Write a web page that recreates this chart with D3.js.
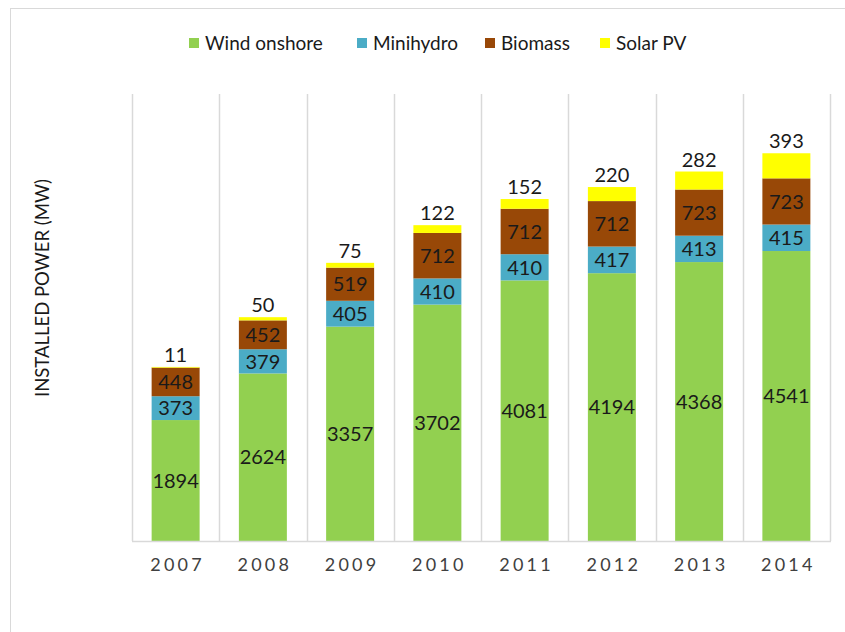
<!DOCTYPE html>
<html>
<head>
<meta charset="utf-8">
<script src="https://cdn.jsdelivr.net/npm/d3@7"></script>
<style>
  body { margin: 0; background: #fff; }
  svg text { font-family: Lato, "Open Sans", sans-serif; }
</style>
</head>
<body>
<svg id="chart" width="845" height="632"></svg>
<script>
// chart data
const years = ['2007', '2008', '2009', '2010', '2011', '2012', '2013', '2014'];
const windOnshore = [1894, 2624, 3357, 3702, 4081, 4194, 4368, 4541];
const minihydro = [373, 379, 405, 410, 410, 417, 413, 415];
const biomass = [448, 452, 519, 712, 712, 712, 723, 723];
const solarPV = [11, 50, 75, 122, 152, 220, 282, 393];

const seriesNames = ['Wind onshore', 'Minihydro', 'Biomass', 'Solar PV'];
const seriesColors = ['#92D050', '#4BACC6', '#984807', '#FFFF00'];

const width = 845, height = 632;
const plot = {left: 132, right: 830, top: 94, bottom: 541};

const svg = d3.select('#chart');

// outer chart frame (clipped at right and bottom like the source)
svg.append('rect')
  .attr('x', 10.5).attr('y', 8.5)
  .attr('width', 900).attr('height', 700)
  .attr('fill', 'none')
  .attr('stroke', '#D9D9D9');

// build rows for the stack
const rows = years.map((y, i) => ({
  year: y,
  'Wind onshore': windOnshore[i],
  'Minihydro': minihydro[i],
  'Biomass': biomass[i],
  'Solar PV': solarPV[i]
}));

const stack = d3.stack().keys(seriesNames)(rows);

const x = d3.scaleBand()
  .domain(years)
  .range([plot.left, plot.right])
  .paddingInner(0.45)
  .paddingOuter(0.225);

const y = d3.scaleLinear()
  .domain([0, 7000])
  .range([plot.bottom, plot.top]);

const color = d3.scaleOrdinal().domain(seriesNames).range(seriesColors);

// vertical category separators
const step = (plot.right - plot.left) / years.length;
const sepX = d3.range(years.length + 1).map(i => plot.left + i * step);
svg.append('g')
  .selectAll('line')
  .data(sepX)
  .enter()
  .append('line')
  .attr('x1', d => Math.round(d) + 0.5)
  .attr('x2', d => Math.round(d) + 0.5)
  .attr('y1', plot.top)
  .attr('y2', plot.bottom)
  .attr('stroke', '#D9D9D9')
  .attr('stroke-width', 1.5);

// bars
const layers = svg.append('g')
  .selectAll('g')
  .data(stack)
  .enter()
  .append('g')
  .attr('fill', d => color(d.key));

layers.selectAll('rect')
  .data(d => d)
  .enter()
  .append('rect')
  .attr('x', d => x(d.data.year))
  .attr('width', x.bandwidth())
  .attr('y', d => y(d[1]))
  .attr('height', d => y(d[0]) - y(d[1]));

// baseline
svg.append('line')
  .attr('x1', plot.left).attr('x2', plot.right + 1)
  .attr('y1', plot.bottom + 0.5).attr('y2', plot.bottom + 0.5)
  .attr('stroke', '#D9D9D9')
  .attr('stroke-width', 1.5);

// data labels: centred in segment, solar above the bar
stack.forEach(layer => {
  const outside = layer.key === 'Solar PV';
  svg.append('g')
    .selectAll('text')
    .data(layer)
    .enter()
    .append('text')
    .attr('x', d => x(d.data.year) + x.bandwidth() / 2)
    .attr('y', d => outside ? y(d[1]) - 5 : (y(d[0]) + y(d[1])) / 2)
    .attr('dy', outside ? 0 : '0.36em')
    .attr('text-anchor', 'middle')
    .attr('font-size', 20)
    .attr('fill', '#1a1a1a')
    .text(d => d[1] - d[0]);
});

// x axis labels
const xAxis = d3.axisBottom(x).tickSize(0).tickPadding(0);
const gx = svg.append('g')
  .attr('transform', `translate(0,${plot.bottom})`)
  .call(xAxis);
gx.select('.domain').remove();
gx.selectAll('text')
  .attr('y', 30)
  .attr('dy', 0)
  .attr('dx', 2)
  .attr('font-size', 18)
  .attr('letter-spacing', 3.2)
  .attr('fill', '#404040')
  .style('font-family', 'Lato, sans-serif');

// y axis title
svg.append('text')
  .attr('transform', 'translate(49,288) rotate(-90)')
  .attr('text-anchor', 'middle')
  .attr('font-size', 18.5)
  .attr('fill', '#1a1a1a')
  .text('INSTALLED POWER (MW)');

// legend
const legendX = [189, 357, 485, 600];
const legend = svg.append('g')
  .selectAll('g')
  .data(seriesNames)
  .enter()
  .append('g')
  .attr('transform', (d, i) => `translate(${legendX[i]},43)`);

legend.append('rect')
  .attr('x', 0).attr('y', -5)
  .attr('width', 10).attr('height', 10)
  .attr('fill', d => color(d));

legend.append('text')
  .attr('x', 16)
  .attr('dy', '0.36em')
  .attr('font-size', 19)
  .attr('fill', '#1a1a1a')
  .text(d => d);
</script>
</body>
</html>
